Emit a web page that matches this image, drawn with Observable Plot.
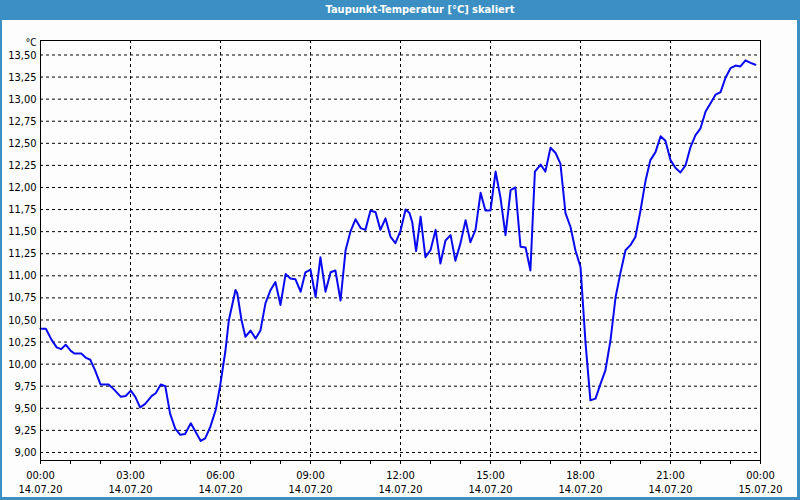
<!DOCTYPE html>
<html>
<head>
<meta charset="utf-8">
<script src="https://cdn.jsdelivr.net/npm/d3@7"></script>
<script src="https://cdn.jsdelivr.net/npm/@observablehq/plot@0.6"></script>
<style>
  body { margin: 0; background: #ffffff; }
  #wrap { position: relative; width: 800px; height: 500px; background: #3c8fc3; overflow: hidden;
          font-family: "DejaVu Sans Condensed", "Liberation Sans", sans-serif; }
  #title { position: absolute; left: 0; top: 0; width: 800px; height: 20px; box-sizing: border-box;
           padding-left: 40px; text-align: center; color: #ffffff; font-weight: bold; font-size: 11px;
           line-height: 20px; }
  #inner { position: absolute; left: 2px; top: 20px; width: 795px; height: 477px; background: #fcfdfc; }
  #chart { position: absolute; left: 0; top: 20px; }
</style>
</head>
<body>
<div id="wrap">
  <div id="title">Taupunkt-Temperatur [°C] skaliert</div>
  <div id="inner"></div>
  <div id="chart"></div>
</div>
<script>
// Hours since 14.07.20 00:00
const hours = [0, 0.18, 0.36, 0.54, 0.69, 0.84, 1.01, 1.13, 1.36, 1.52, 1.66, 1.82, 2.0, 2.27, 2.43, 2.68, 2.84, 3.01, 3.16, 3.32, 3.49, 3.71, 3.84, 4.01, 4.16, 4.32, 4.49, 4.66, 4.82, 5.01, 5.16, 5.34, 5.49, 5.66, 5.84, 5.99, 6.16, 6.28, 6.39, 6.5, 6.56, 6.7, 6.83, 7.0, 7.17, 7.33, 7.5, 7.67, 7.83, 8.0, 8.17, 8.33, 8.5, 8.67, 8.83, 9.0, 9.17, 9.33, 9.5, 9.67, 9.83, 10.0, 10.17, 10.33, 10.5, 10.67, 10.83, 11.0, 11.17, 11.33, 11.5, 11.67, 11.83, 12.0, 12.17, 12.3, 12.39, 12.52, 12.67, 12.83, 13.0, 13.17, 13.33, 13.5, 13.67, 13.83, 14.0, 14.17, 14.33, 14.5, 14.67, 14.83, 15.0, 15.17, 15.33, 15.5, 15.67, 15.83, 16.0, 16.17, 16.33, 16.48, 16.67, 16.83, 17.0, 17.17, 17.33, 17.5, 17.67, 17.83, 18.0, 18.17, 18.33, 18.5, 18.67, 18.83, 19.0, 19.17, 19.33, 19.5, 19.67, 19.83, 20.0, 20.17, 20.33, 20.5, 20.67, 20.83, 21.0, 21.17, 21.33, 21.5, 21.67, 21.83, 22.0, 22.17, 22.33, 22.5, 22.67, 22.83, 23.0, 23.17, 23.33, 23.5, 23.67, 23.83];
// Dew point temperature (°C)
const dewPoint = [10.40, 10.40, 10.28, 10.19, 10.17, 10.22, 10.15, 10.12, 10.12, 10.07, 10.05, 9.93, 9.77, 9.77, 9.72, 9.63, 9.64, 9.70, 9.63, 9.51, 9.55, 9.64, 9.67, 9.77, 9.75, 9.44, 9.27, 9.20, 9.21, 9.33, 9.24, 9.13, 9.16, 9.29, 9.48, 9.76, 10.14, 10.50, 10.67, 10.84, 10.80, 10.50, 10.31, 10.38, 10.29, 10.38, 10.69, 10.84, 10.93, 10.67, 11.02, 10.97, 10.96, 10.82, 11.04, 11.07, 10.76, 11.21, 10.82, 11.04, 11.06, 10.72, 11.29, 11.50, 11.64, 11.54, 11.52, 11.74, 11.72, 11.52, 11.65, 11.44, 11.37, 11.51, 11.75, 11.71, 11.61, 11.28, 11.67, 11.21, 11.29, 11.52, 11.14, 11.40, 11.46, 11.17, 11.37, 11.63, 11.38, 11.52, 11.94, 11.74, 11.74, 12.18, 11.89, 11.46, 11.97, 12.00, 11.33, 11.32, 11.06, 12.18, 12.26, 12.18, 12.45, 12.39, 12.27, 11.71, 11.55, 11.29, 11.10, 10.23, 9.59, 9.61, 9.78, 9.93, 10.27, 10.76, 11.03, 11.29, 11.35, 11.44, 11.74, 12.08, 12.31, 12.40, 12.58, 12.53, 12.31, 12.22, 12.17, 12.25, 12.46, 12.59, 12.67, 12.86, 12.95, 13.05, 13.08, 13.24, 13.35, 13.38, 13.37, 13.44, 13.41, 13.39];

const yTicks = [9, 9.25, 9.5, 9.75, 10, 10.25, 10.5, 10.75, 11, 11.25, 11.5, 11.75, 12, 12.25, 12.5, 12.75, 13, 13.25, 13.5];
const xMajor = [0, 3, 6, 9, 12, 15, 18, 21, 24];
const xTimeLabels = ["00:00", "03:00", "06:00", "09:00", "12:00", "15:00", "18:00", "21:00", "00:00"];
const xDateLabels = ["14.07.20", "14.07.20", "14.07.20", "14.07.20", "14.07.20", "14.07.20", "14.07.20", "14.07.20", "15.07.20"];
const xMinor = d3.range(0, 25, 1);
const unitLabel = "°C";

const data = hours.map((h, i) => ({h, v: dewPoint[i]}));
const font = "'DejaVu Sans Condensed', 'Liberation Sans', sans-serif";

const chart = Plot.plot({
  width: 800,
  height: 480,
  marginLeft: 40,
  marginRight: 40,
  marginTop: 20,
  marginBottom: 40,
  style: {background: "transparent", fontFamily: font, fontSize: "11px", color: "#000"},
  x: {domain: [0, 24], axis: null},
  y: {domain: [8.909, 13.664], axis: null},
  marks: [
    Plot.gridY(yTicks, {stroke: "#000", strokeOpacity: 1, strokeDasharray: "3,3"}),
    Plot.gridX(xMajor, {stroke: "#000", strokeOpacity: 1, strokeDasharray: "3,3"}),
    Plot.axisX(xMinor, {tickSize: 4, tickFormat: () => "", label: null, stroke: "#000"}),
    Plot.axisX(xMajor, {
      tickSize: 0, tickPadding: 9, label: null, fontSize: 11, lineHeight: 1.27, fill: "#000",
      tickFormat: (d, i) => xTimeLabels[i] + "\n" + xDateLabels[i]
    }),
    Plot.axisY(yTicks, {
      tickSize: 0, tickPadding: 4, label: null, fontSize: 11, fill: "#000",
      tickFormat: d => d.toFixed(2).replace(".", ",")
    }),
    Plot.text([unitLabel], {frameAnchor: "top-left", dx: -4, dy: -2, textAnchor: "end", fontSize: 10, fill: "#000"}),
    Plot.line(data, {x: "h", y: "v", stroke: "#0a0af0", strokeWidth: 2}),
    Plot.frame({stroke: "#000"})
  ]
});
document.getElementById("chart").appendChild(chart);
</script>
</body>
</html>
